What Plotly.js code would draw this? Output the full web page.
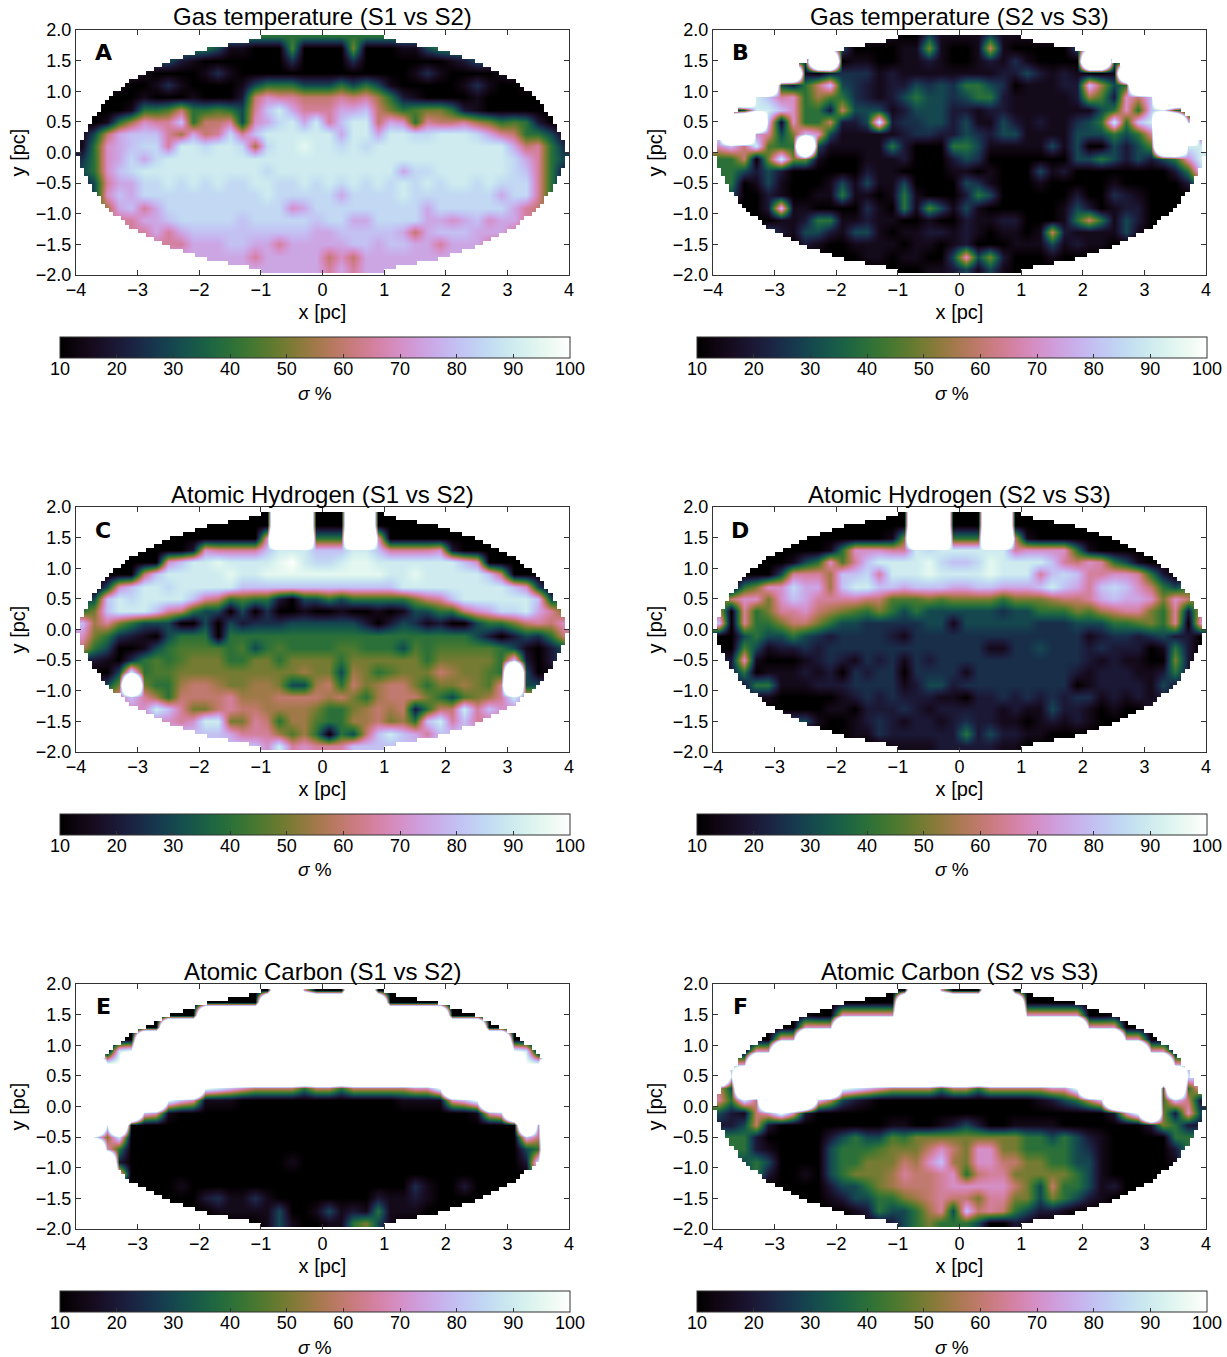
<!DOCTYPE html>
<html><head><meta charset="utf-8">
<script src="https://cdn.plot.ly/plotly-3.0.1.min.js"></script>
<style>html,body{margin:0;padding:0;background:#fff}#chart{width:1227px;height:1357px}</style>
</head><body><div id="chart"></div>
<script>
// Values, one letter per 0.2 pc bin. Rows run y = 1.9 ... -1.9, columns x = -3.9 ... 3.9.
// 0=10 a=15 1=20 b=25 2=30 c=35 3=40 d=45 4=50 e=55 5=60 f=65 6=70 g=75 7=80 h=85 8=90 i=95 9=100 W=300 (sigma %)
const levels = {'0':10,a:15,'1':20,b:25,'2':30,c:35,'3':40,d:45,'4':50,e:55,'5':60,f:65,'6':70,g:75,'7':80,h:85,'8':90,i:95,'9':100,W:300};
const zA = [
"3333333333 3333333333 3333333333 3333333333",
"3333333333 32aa000d00 004000aa23 3333333333",
"222222221a 0000000b00 00b0000000 a122222222",
"11111a0000 aba0000000 0000000aba 0000a11111",
"111a00aba0 000a233322 23232a0000 0aba00a111",
"11000a000a 000156ff55 5f5fe31a00 00a0000011",
"0000a33d53 3d32f78gff fgg7543d44 31a0000000",
"00a3e6ff73 55f26gh8g8 f7885g63f5 5fe43d3100",
"a25g777feg 5fhf788888 8g88g88hh8 88hgf5332a",
"a36g7hhf88 h88heh88i8 8h8h888888 88888g5f3b",
"b36ghgh888 8888888888 8888888888 88888hgf32",
"2367h88888 88888h8888 888888ghh8 88888h7f31",
"12fgghh8h8 h8hh88hh8h 8h8h8h8h8h 88h8hhhf31",
"1267ghhhhh hhhhh8hhhh hghhhh8hhh hhhhghhf31",
"44eg7fghhh hhhhhhh6gh hhhhhhhhgh hhhhhgf544",
"fffffgg7hh hhh7hhhhh7 hhgghhhhgg 6g76ggffff",
"ffffffgfg7 777777777g g77777g5g7 77gggfffff",
"fffffffffg gg77ggfggg gg77g77ggf gggfffffff",
"gggggggggg ggggfggggg 565ggggggg gggggggggg",
"gggggggggg gggggggggg fgfggggggg gggggggggg"];
const zB = [
"1111111111 1111a002aa aa2aaa1111 1111111111",
"0000000006 20000aa4a0 0a5a000002 7000000000",
"11111112WW 0aa00aa1a0 0a1aba0000 WW21111111",
"WWWWWWWa01 bbba1aaaaa aaa1121a1a 00aWWWWWWW",
"WWWWW21357 2b1a112b2b 332b0aaa11 7e23WWWWWW",
"WWW87f63ed 3b1a12322b 2331aaaaa1 ed1657WWWW",
"0028876331 5222a12221 1a11aaaaaa a236378310",
"8WWW7a6335 11281bb221 2aa21a1aab 238378WW78",
"8WW6f24762 aaaaa1bb11 2b122aaaa2 22323fWWW5",
"6758d33W2a aaaa310003 32aaaaa2a2 00212dWW88",
"33504844a0 00aaa10001 2b00000002 2321212368",
"3321210000 001aa0000a a0a0002a10 0000000137",
"330a2a000a 2a2aa20000 2ba000a000 00a000001d",
"22001a00aa 3aa0a3a000 1320000001 00b1a00000",
"000017aa00 00ba03ad2a 2a000000a2 10a1100000",
"00000aa133 aa1aa00a00 1aa11000a3 53a2100000",
"000021a221 a22a0aa11a 1a0aa0a51a aaa2a00000",
"00000001a0 0aaaa0aa0a 1000aaa2a1 aa00000000",
"0000000000 00aa0aa002 6241000a00 0000000000",
"0000000000 0000000aa1 2a2a000000 0000000000"];
const zC = [
"0000000000 000000WWW0 00WW000000 0000000000",
"0000000000 000000WWW0 00WW000000 0000000000",
"0000000000 000006WWW3 33WW600000 0000000000",
"0000000001 6ffff78887 77887ffff6 1000000000",
"0000000678 8i8888i98h h8ii888888 8760000000",
"0000057888 88i88iiiii iiiii88i88 8887500000",
"0026788h88 8887777777 7777778888 8888876200",
"2278h88887 f53d331022 323333345f 7888888722",
"3478887f53 22020b00a0 0a00a0a223 356ghh8gf4",
"7ef4322200 2021bbb222 2221012ba1 0023345f56",
"643b1a0233 3033333333 3333333333 3321012b35",
"53200a23dd dd3d23d333 3dd3332d3d dddd32a012",
"11a0b3d3d4 4433443444 4344444434 4444371012",
"000283dd44 44444444e4 42e43d4445 e44d3W20aa",
"1124W433e5 5e44ee422e 5354e55434 4e4dfW2211",
"555f7fe355 55feee5555 e543e55543 2d4ef8ffff",
"66666687f4 45f55eeee4 334e5e5135 58f7666666",
"66666666f6 8844f53eed 33ee54e378 f7ff666666",
"7777777777 77gfffede3 0325787gf7 7777777777",
"7777777777 7777768f6f ff77777777 7777777777"];
const zD = [
"0000000000 000000WWW0 00WW000000 0000000000",
"0000000000 000000WWW0 00WW000000 0000000000",
"0000000000 0000a4WWW3 33WW5a0000 0000000000",
"000000000a 3666ff8h88 8888f66663 a000000000",
"000000a236 df78888ih7 7hi88887f5 6f32a00000",
"000002fffe 77hf888i88 88i888f7h7 ff66f31000",
"003466hgge 78877g777g g77ggg787g f7h7653230",
"3566467gff ff55ddd4d4 4443444e55 fg7gg64653",
"50f34ff65e 4d34323222 222b223334 de5ff43f15",
"70f3345543 22bbbbb22a 222222bbb2 2233d43f06",
"00232232b1 bbbb1abbbb bbbbbbbbbb a1bb1b2110",
"00d2a11b1b bbbbbbbbbb bbaabb2bbb 1b1110a310",
"116a000a1b 1ab1bab1bb bbbbbbbbbb 1a1aa00410",
"1130aaa1a1 0b1bb0bbbb abbbbbbbb1 a111aa1311",
"11133aaa11 1bbbba1221 bbbbbbbbb0 a1111a2111",
"222aa00000 a1b1b111aa 011b1b1b1b ba1a1a1111",
"000000000a a0111b1a11 111a1aa211 a0a0011111",
"22222222a0 0a1b1a11a1 b11aa0a1a1 a000000000",
"0000000000 0aab111111 31211aa000 0000000000",
"0000000000 0000aaaa11 111aa00000 0000000000"];
const zE = [
"0000000000 000000WW60 00WW000000 0000000000",
"0000000000 00000WWWWW WWWWW00000 0000000000",
"0000000000 WWWWWWWWWW WWWWWWWWWW 0000000000",
"0000000WWW WWWWWWWWWW WWWWWWWWWW WWW0000000",
"00000WWWWW WWWWWWWWWW WWWWWWWWWW WWWWW00000",
"00089WWWWW WWWWWWWWWW WWWWWWWWWW WWWWW98000",
"WW99WWWWWW WWWWWWWWWW WWWWWWWWWW WWWWWW99WW",
"WWWWWWWWWW WWWWWWWWWW WWWWWWWWWW WWWWWWWWWW",
"WWWWWWWWWW 9876555535 5355555669 WWWWWWWWWW",
"WWWWWWW976 aaa0000000 000000aaaa 679WWWWWWW",
"WWWWW76a00 0000000000 0000000000 00a67WWWWW",
"WW8W000000 0000000000 0000000000 000000W6WW",
"W848000000 0000000000 0000000000 00000075WW",
"WW63000000 0000000000 0000000000 00000023WW",
"WWW1000000 0000000a00 0000000000 00000018WW",
"WWW7000000 0000000000 0000000000 00000007WW",
"00000000a0 0000000000 0000000ba0 0100000000",
"0000000000 1baaba0000 00001aa1a0 0000000000",
"0000000000 0aaaaa200a 2a1a3aaa00 0000000000",
"0000000000 00000a2a00 aa342a0000 0000000000"];
const zF = [
"0000000000 000000WW60 00WW000000 0000000000",
"0000000000 00000WWWWW WWWWW00000 0000000000",
"0000000a00 66666WWWWW WWWWW66666 00a0000000",
"0000000666 WWWWWWWWWW WWWWWWWWWW 6660000000",
"0000066WWW WWWWWWWWWW WWWWWWWWWW WWW6600000",
"00066WWWWW WWWWWWWWWW WWWWWWWWWW WWWWW66000",
"666WWWWWWW WWWWWWWWWW WWWWWWWWWW WWWWWWW666",
"W8WWWWWWWW WWWWWWWWWW WWWWWWWWWW WWWWWWWW87",
"52WWWWWWWW 9876555535 5355555669 WWWWWW3W36",
"f385WWWW75 21a0000000 000000a123 57WWWW3751",
"21a5696100 0000000000 0000000000 00169W4162",
"1125100000 0000aa00a1 2100aaaa00 0000014311",
"3331000001 2322d34444 4444433232 1a00000333",
"3331a00002 333d444565 4664433332 ba00000133",
"2223200002 334445e67e 4665544332 2a00000a33",
"2223100a02 3444ef55f6 35ff444443 2a00000033",
"0000000001 2234e555f6 6666542533 2a10000000",
"000000000a 122334e5f5 54ff442432 1a00000000",
"0000000000 0a13223ef2 75f53211a0 0000000000",
"0000000000 0aaa123433 32001a0000 0000000000"];
// half-width of the mapped region (pc), from the centre row outward
const outlineHalfWidth = [3.97,3.96,3.94,3.91,3.88,3.85,3.82,3.79,3.75,3.71,3.67,3.62,3.57,3.52,3.47,3.40,3.30,3.21,3.11,3.0,2.87,2.75,2.61,2.45,2.25,2.05,1.85,1.55,1.2,1.0];
const panelTitles = ["Gas temperature (S1 vs S2)","Gas temperature (S2 vs S3)","Atomic Hydrogen (S1 vs S2)","Atomic Hydrogen (S2 vs S3)","Atomic Carbon (S1 vs S2)","Atomic Carbon (S2 vs S3)"];
const panelLetters = ["A","B","C","D","E","F"];
const panelData = [zA,zB,zC,zD,zE,zF];
const xTicks = [-4,-3,-2,-1,0,1,2,3,4];
const yTicks = [-2,-1.5,-1,-0.5,0,0.5,1,1.5,2];
const barTicks = [10,20,30,40,50,60,70,80,90,100];

const W=1227,H=1357;
const FONT='"Liberation Sans", Arial, sans-serif', INK='#333333';
function decode(rows,name){return rows.map((r,k)=>{const s=r.replace(/ /g,'');if(s.length!==40)console.error(name,k,s.length);return [...s].map(c=>levels[c]);});}
function cubehelix(t){const a=t*(1-t)/2,p=2*Math.PI*(0.5/3-1.5*t),c=Math.cos(p),s=Math.sin(p);
  const f=v=>Math.round(255*Math.max(0,Math.min(1,v)));
  return `rgb(${f(t+a*(-0.14861*c+1.78277*s))},${f(t+a*(-0.29227*c-0.90649*s))},${f(t+a*(1.97294*c))})`;}
const scale=[];for(let i=0;i<=48;i++)scale.push([i/48,cubehelix(i/48)]);

const binX=[];for(let i=0;i<40;i++)binX.push(-3.9+0.2*i);
const binY=[];for(let j=0;j<20;j++)binY.push(1.9-0.2*j);
// white cover outside the outline, at the picture's own pixel size
const maskX=[];for(let i=0;i<120;i++)maskX.push(-4+(i+0.5)*8/120);
const maskY=[],maskZ=[];
for(let k=-31;k<=31;k++){const y=-0.02+k*0.0657;maskY.push(y);const hw=Math.abs(k)<30?outlineHalfWidth[Math.abs(k)]:0;
  maskZ.push(maskX.map(x=>Math.abs(x)<hw?null:1));}

const data=[],layout={width:W,height:H,margin:{l:0,r:0,t:0,b:0},paper_bgcolor:'#fff',plot_bgcolor:'#fff',showlegend:false,annotations:[],font:{family:FONT,size:18,color:'#000'}};
panelData.forEach((rows,i)=>{
  const col=i%2,row=Math.floor(i/2),left=col?713:76,right=col?1206:569,top=30+477*row,bot=275+477*row,barL=col?697:60,barTop=337+477*row;
  const ax=i?String(i+1):'';
  data.push({type:'heatmap',x:binX,y:binY,z:decode(rows,panelLetters[i]),xaxis:'x'+ax,yaxis:'y'+ax,zmin:10,zmax:100,zsmooth:'best',colorscale:scale,hoverinfo:'skip',
    colorbar:{orientation:'h',xref:'paper',yref:'paper',x:barL/W,xanchor:'left',y:1-barTop/H,yanchor:'top',lenmode:'pixels',len:(right-barL+1),thicknessmode:'pixels',thickness:21,xpad:0,ypad:0,
      outlinecolor:INK,outlinewidth:1,tickvals:barTicks,ticktext:barTicks.map(String),ticks:'inside',ticklen:4,tickcolor:INK,tickfont:{family:FONT,size:18,color:'#000'}}});
  data.push({type:'heatmap',x:maskX,y:maskY,z:maskZ,xaxis:'x'+ax,yaxis:'y'+ax,zmin:0,zmax:1,showscale:false,colorscale:[[0,'#fff'],[1,'#fff']],hoverinfo:'skip'});
  const axisBase={showgrid:false,zeroline:false,showline:true,linecolor:INK,linewidth:1,mirror:'ticks',ticks:'inside',ticklen:5,tickcolor:INK,tickfont:{family:FONT,size:18,color:'#000'},automargin:false};
  layout['xaxis'+ax]=Object.assign({},axisBase,{range:[-4,4],domain:[left/W,right/W],anchor:'y'+ax,tickmode:'array',tickvals:xTicks,ticktext:xTicks.map(v=>String(v).replace('-','\u2212')),ticklabelstandoff:-2,title:{text:'x [pc]',standoff:6,font:{family:FONT,size:20,color:'#000'}}});
  layout['yaxis'+ax]=Object.assign({},axisBase,{range:[-2,2],domain:[1-bot/H,1-top/H],anchor:'x'+ax,tickmode:'array',tickvals:yTicks,ticktext:yTicks.map(v=>v.toFixed(1).replace('-','\u2212')),title:{text:'y [pc]',standoff:4,font:{family:FONT,size:20,color:'#000'}}});
  layout.annotations.push({xref:'paper',yref:'paper',x:(left+right)/2/W,y:1-(top-13)/H,xanchor:'center',yanchor:'middle',showarrow:false,text:panelTitles[i],font:{family:FONT,size:24,color:'#000'}});
  layout.annotations.push({xref:'paper',yref:'paper',x:(left+27)/W,y:1-(top+23)/H,xanchor:'center',yanchor:'middle',showarrow:false,text:'<b>'+panelLetters[i]+'</b>',font:{family:'"DejaVu Sans", sans-serif',size:22,color:'#000'}});
  layout.annotations.push({xref:'paper',yref:'paper',x:(barL+right)/2/W,y:1-(barTop+56)/H,xanchor:'center',yanchor:'middle',showarrow:false,text:'<i>σ</i> %',font:{family:FONT,size:19,color:'#000'}});
});
Plotly.newPlot('chart',data,layout,{displayModeBar:false,staticPlot:true}).then(()=>{
  // bring the colour bar's tick labels up next to the bar
  document.querySelectorAll('.colorbar .cbaxis text, .colorbar .xtick text').forEach(t=>{
    if(!t.dataset.moved){t.dataset.moved='1';t.setAttribute('y',String(parseFloat(t.getAttribute('y'))-6));}
  });
});
</script></body></html>
